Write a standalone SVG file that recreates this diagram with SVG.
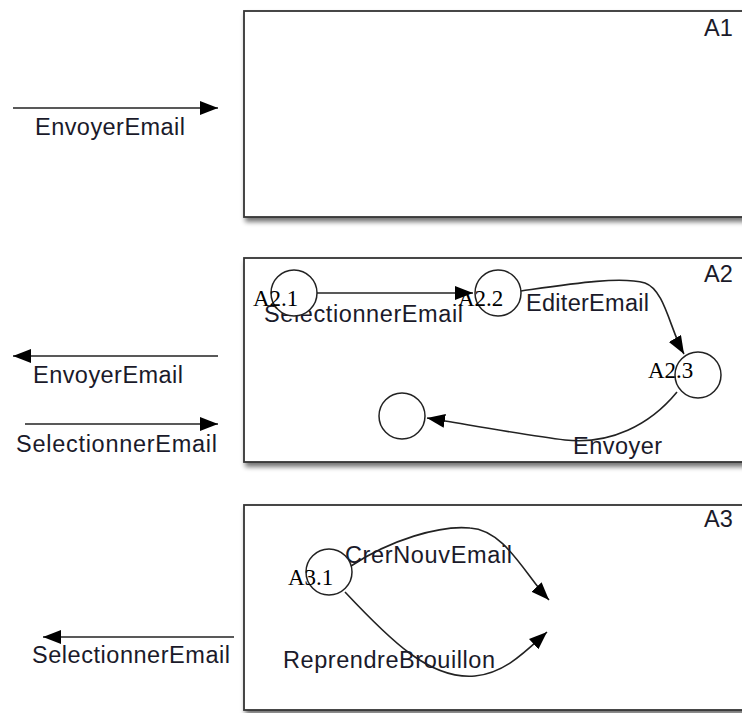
<svg xmlns="http://www.w3.org/2000/svg" width="742" height="713" viewBox="0 0 742 713">
<style>
.box{fill:#fff;stroke:#333;stroke-width:1.8}
.st{fill:#fff;stroke:#222;stroke-width:1.5}
.lbl{font-family:"Liberation Sans",Arial,sans-serif;font-size:23.5px;fill:#1a1a2a}
.sid{font-family:"Liberation Serif","Times New Roman",serif;font-size:23px;fill:#000}
.e{fill:none;stroke:#222;stroke-width:1.6}
</style>
<defs>
<filter id="sh" x="-5%" y="-5%" width="115%" height="120%">
<feGaussianBlur in="SourceAlpha" stdDeviation="2.5"/>
<feOffset dx="2" dy="4" result="b"/>
<feComponentTransfer><feFuncA type="linear" slope="0.55"/></feComponentTransfer>
<feMerge><feMergeNode/><feMergeNode in="SourceGraphic"/></feMerge>
</filter>
<marker id="ah" markerUnits="userSpaceOnUse" markerWidth="20" markerHeight="16" refX="18" refY="7" orient="auto">
<path d="M0,0 L18,7 L0,14 Z" fill="#000"/>
</marker>
</defs>
<rect width="742" height="713" fill="#fff"/>
<g id="A1">
<rect class="box" x="244" y="11" width="520" height="206" filter="url(#sh)"/>
<text class="lbl" x="704" y="36">A1</text>
</g>
<g id="A2">
<rect class="box" x="244" y="258" width="520" height="204" filter="url(#sh)"/>
<text class="lbl" x="704" y="282">A2</text>
</g>
<g id="A3">
<rect class="box" x="244" y="505" width="520" height="205" filter="url(#sh)"/>
<text class="lbl" x="704" y="527">A3</text>
</g>
<g id="connectors">
<line class="e" x1="13" y1="108" x2="218" y2="108" marker-end="url(#ah)"/>
<line class="e" x1="218" y1="356" x2="13" y2="356" marker-end="url(#ah)"/>
<line class="e" x1="25" y1="424" x2="218" y2="424" marker-end="url(#ah)"/>
<line class="e" x1="234" y1="637" x2="43" y2="637" marker-end="url(#ah)"/>
<line class="e" x1="317" y1="293" x2="473" y2="293" marker-end="url(#ah)"/>
<path class="e" d="M521,291 C570,284 620,276 645,283 C665,290 670,330 684,354" marker-end="url(#ah)"/>
<path class="e" d="M677,392 C650,425 610,445 565,440 C530,436 470,425 427,418" marker-end="url(#ah)"/>
<path class="e" d="M351,566 C390,540 440,525 470,528 C505,530 525,575 549,600" marker-end="url(#ah)"/>
<path class="e" d="M345,592 C390,640 430,680 475,676 C505,673 525,652 547,632" marker-end="url(#ah)"/>
</g>
<g id="edge-labels">
<text class="lbl" x="35" y="135" textLength="150" lengthAdjust="spacing">EnvoyerEmail</text>
<text class="lbl" x="33" y="383" textLength="150" lengthAdjust="spacing">EnvoyerEmail</text>
<text class="lbl" x="16" y="452" textLength="201" lengthAdjust="spacing">SelectionnerEmail</text>
<text class="lbl" x="32" y="663" textLength="198" lengthAdjust="spacing">SelectionnerEmail</text>
<text class="lbl" x="264" y="322" textLength="199" lengthAdjust="spacing">SelectionnerEmail</text>
<text class="lbl" x="526" y="311" textLength="123" lengthAdjust="spacing">EditerEmail</text>
<text class="lbl" x="573" y="454" textLength="89" lengthAdjust="spacing">Envoyer</text>
<text class="lbl" x="345" y="563" textLength="167" lengthAdjust="spacing">CrerNouvEmail</text>
<text class="lbl" x="283" y="668" textLength="212" lengthAdjust="spacing">ReprendreBrouillon</text>
</g>
<g id="A2.1">
<circle class="st" cx="294" cy="293" r="23"/>
<text class="sid" x="253" y="306">A2.1</text>
</g>
<g id="A2.2">
<circle class="st" cx="498" cy="293" r="23"/>
<text class="sid" x="458" y="306">A2.2</text>
</g>
<g id="A2.3">
<circle class="st" cx="698" cy="375" r="23"/>
<text class="sid" x="648" y="378">A2.3</text>
</g>
<g id="A2.end">
<circle class="st" cx="402" cy="416" r="23"/>
</g>
<g id="A3.1">
<circle class="st" cx="329" cy="572" r="23"/>
<text class="sid" x="288" y="585">A3.1</text>
</g>
</svg>
